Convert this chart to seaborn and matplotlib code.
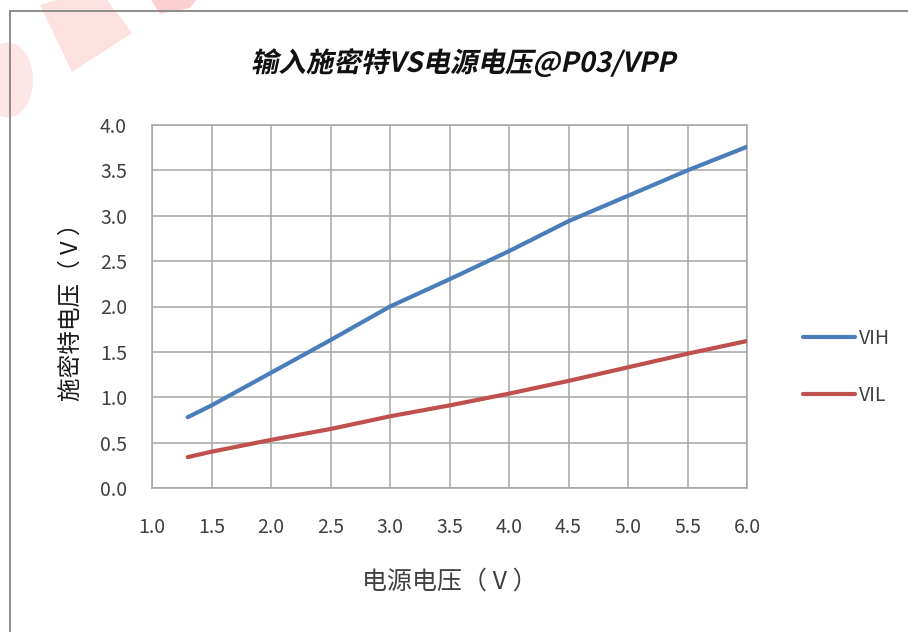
import matplotlib
matplotlib.use("Agg")
import matplotlib.pyplot as plt
import matplotlib.patheffects as pe
from matplotlib.patches import Polygon, Ellipse, Rectangle
from matplotlib.transforms import Affine2D
import seaborn as sns
import pandas as pd

# Supply voltage (V) and measured Schmitt trigger thresholds (V)
vdd = [1.3, 1.5, 2.0, 2.5, 3.0, 3.5, 4.0, 4.5, 5.0, 5.5, 6.0]
vih = [0.78, 0.91, 1.27, 1.63, 2.00, 2.30, 2.61, 2.94, 3.22, 3.50, 3.76]
vil = [0.34, 0.40, 0.53, 0.65, 0.79, 0.91, 1.04, 1.18, 1.33, 1.48, 1.62]
series_names = ["VIH", "VIL"]
x_ticks = [1.0, 1.5, 2.0, 2.5, 3.0, 3.5, 4.0, 4.5, 5.0, 5.5, 6.0]
y_ticks = [0.0, 0.5, 1.0, 1.5, 2.0, 2.5, 3.0, 3.5, 4.0]

title = "输入施密特VS电源电压@P03/VPP"
xlabel = "电源电压（ V ）"
ylabel = "施密特电压（ V ）"

sns.set_theme(style="white")
plt.rcParams["font.family"] = ["Noto Sans CJK SC", "DejaVu Sans"]

df = pd.DataFrame({"vdd": vdd * 2,
                   "v": vih + vil,
                   "series": [series_names[0]] * len(vdd) + [series_names[1]] * len(vdd)})

fig = plt.figure(figsize=(9.08, 6.32), dpi=100)
fig.patch.set_facecolor("white")

# faint pink stamp marks in the upper-left corner
for verts, col in [([(40, 5), (98, -12), (132, 33), (72, 72)], "#fde0e0"),
                   ([(148, -5), (200, -5), (190, 8), (160, 14)], "#fcd0d0")]:
    fig.patches.append(Polygon([(x / 908, 1 - y / 632) for x, y in verts],
                               closed=True, transform=fig.transFigure,
                               facecolor=col, edgecolor="none", zorder=0))
fig.patches.append(Ellipse((8 / 908, 1 - 80 / 632), 50 / 908, 75 / 632,
                           transform=fig.transFigure, facecolor="#fde6e6",
                           edgecolor="none", zorder=0))
# outer chart frame (top and left edges visible)
fig.patches.append(Rectangle((9.5 / 908, -0.2), 1.5, 1.2 - 10.5 / 632,
                             transform=fig.transFigure, facecolor="none",
                             edgecolor="#8c8c8c", lw=1.4, zorder=1))

ax = fig.add_axes([152 / 908, 1 - 488 / 632, (747 - 152) / 908, (488 - 125) / 632])
ax.set_facecolor("none")

sns.lineplot(data=df, x="vdd", y="v", hue="series", ax=ax,
             palette=["#4a7ebb", "#c0504d"], linewidth=3.0, legend=True,
             zorder=3)

ax.set_xlim(1.0, 6.0)
ax.set_ylim(0.0, 4.0)
ax.set_xticks(x_ticks)
ax.set_yticks(y_ticks)
ax.set_xticklabels([f"{t:.1f}" for t in x_ticks])
ax.set_yticklabels([f"{t:.1f}" for t in y_ticks])
ax.grid(True, color="#a6a6a6", linewidth=1.1)
ax.set_axisbelow(True)
for s in ax.spines.values():
    s.set_color("#a6a6a6")
    s.set_linewidth(1.1)
ax.tick_params(axis="both", length=0, labelsize=14, colors="#404040")
ax.tick_params(axis="x", pad=21)
ax.tick_params(axis="y", pad=18)

ax.set_xlabel(xlabel, fontsize=18, color="#404040", labelpad=22)
ax.set_ylabel(ylabel, fontsize=17, color="#1a1a1a", labelpad=12)


class Slant(pe.AbstractPathEffect):
    """Shear glyph outlines to give an oblique look."""
    def __init__(self, angle=12):
        super().__init__()
        self._skew = Affine2D().skew_deg(angle, 0)

    def draw_path(self, renderer, gc, tpath, affine, rgbFace=None):
        renderer.draw_path(gc, tpath, self._skew + affine, rgbFace)


fig.text(463 / 908, 1 - 63 / 632, title, ha="center", va="center",
         fontsize=19.8, fontweight="bold", color="#111111",
         path_effects=[Slant(12)])

handles, labels = ax.get_legend_handles_labels()
leg = ax.legend(handles, labels, loc="center left",
                bbox_to_anchor=(795 / 908, 1 - 367 / 632),
                bbox_transform=fig.transFigure, frameon=False,
                fontsize=14, handlelength=2.7, handletextpad=0.2,
                labelspacing=1.85, borderaxespad=0)
for t in leg.get_texts():
    t.set_color("#404040")
for h in leg.get_lines():
    h.set_linewidth(3.0)

fig.savefig("out.png", dpi=100, facecolor="white")
